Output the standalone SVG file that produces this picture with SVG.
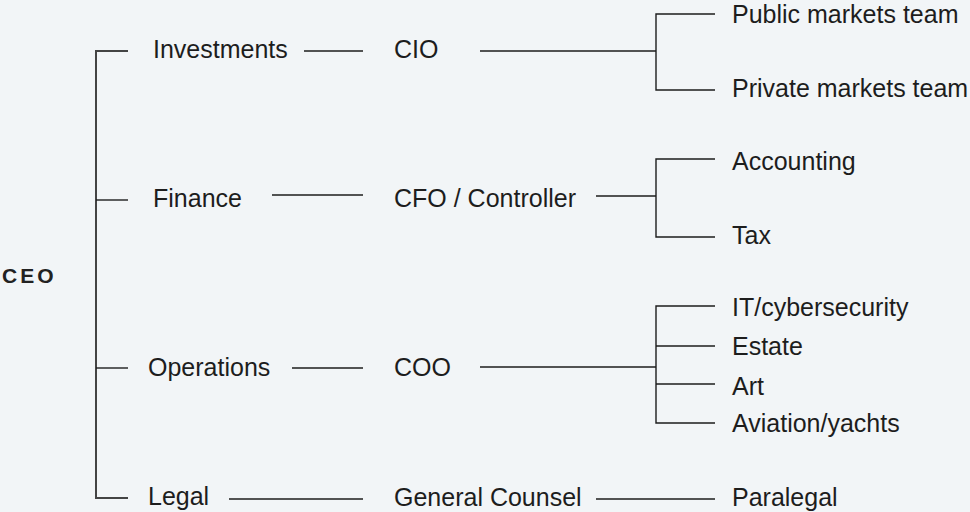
<svg xmlns="http://www.w3.org/2000/svg" width="970" height="512" viewBox="0 0 970 512">
<style>
text{font-family:"Liberation Sans",Arial,sans-serif;font-size:25px;fill:#1d1d1d}
.ceo{font-size:21px;letter-spacing:3px;font-weight:bold;fill:#222}
.c line,.c path{stroke:#1d1d1d;stroke-width:1.4;fill:none}
.c .v{stroke:#444;stroke-width:2}
</style>
<rect width="970" height="512" fill="#f2f5f7"/>
<g class="c" id="connectors">
<path class="v" d="M128 51H96V498H128"/>
<line x1="96" y1="200" x2="128" y2="200"/>
<line x1="96" y1="368" x2="128" y2="368"/>
<line x1="304" y1="51" x2="363" y2="51"/>
<line x1="272" y1="195" x2="363" y2="195"/>
<line x1="292" y1="368" x2="363" y2="368"/>
<line x1="229" y1="499" x2="363" y2="499"/>
<line x1="480" y1="51" x2="656" y2="51"/>
<path d="M715 14H656V90H715"/>
<line x1="596" y1="196" x2="656" y2="196"/>
<path d="M715 159H656V237H715"/>
<line x1="480" y1="367" x2="656" y2="367"/>
<path d="M715 306H656V423H715"/>
<line x1="656" y1="346" x2="715" y2="346"/>
<line x1="656" y1="384" x2="715" y2="384"/>
<line x1="596" y1="499" x2="715" y2="499"/>
</g>
<g id="ceo"><text class="ceo" x="2" y="283">CEO</text></g>
<g id="investments"><text x="153" y="58">Investments</text></g>
<g id="finance"><text x="153" y="207">Finance</text></g>
<g id="operations"><text x="148" y="376">Operations</text></g>
<g id="legal"><text x="148" y="505">Legal</text></g>
<g id="cio"><text x="394" y="58">CIO</text></g>
<g id="cfo"><text x="394" y="207">CFO / Controller</text></g>
<g id="coo"><text x="394" y="376">COO</text></g>
<g id="gc"><text x="394" y="506">General Counsel</text></g>
<g id="public"><text x="732" y="23">Public markets team</text></g>
<g id="private"><text x="732" y="97">Private markets team</text></g>
<g id="accounting"><text x="732" y="170">Accounting</text></g>
<g id="tax"><text x="732" y="244">Tax</text></g>
<g id="it"><text x="732" y="316">IT/cybersecurity</text></g>
<g id="estate"><text x="732" y="355">Estate</text></g>
<g id="art"><text x="732" y="395">Art</text></g>
<g id="aviation"><text x="732" y="432">Aviation/yachts</text></g>
<g id="paralegal"><text x="732" y="506">Paralegal</text></g>
</svg>
